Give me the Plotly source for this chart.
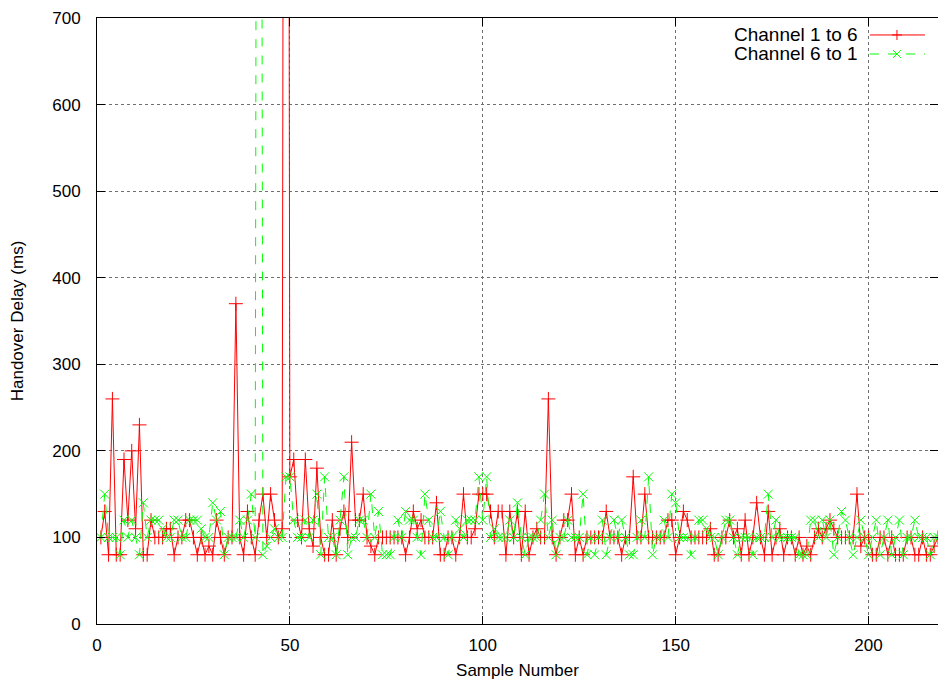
import plotly.graph_objects as go

# Sample numbers and handover delays (ms)
samples = list(range(1, 219))

ch_1_to_6 = [
    100, 130, 80, 260, 80, 80, 190, 120, 200, 110,
    230, 80, 80, 120, 100, 100, 100, 110, 110, 80,
    100, 100, 120, 120, 100, 80, 100, 80, 90, 80,
    120, 100, 80, 100, 100, 370, 100, 80, 130, 100,
    80, 120, 150, 100, 150, 120, 100, 110, 3000, 170,
    190, 120, 100, 190, 110, 90, 180, 100, 80, 80,
    120, 80, 110, 130, 100, 210, 120, 120, 150, 100,
    90, 80, 100, 100, 100, 100, 100, 100, 100, 80,
    100, 130, 110, 120, 100, 100, 100, 140, 80, 80,
    100, 100, 80, 100, 150, 100, 100, 110, 150, 150,
    150, 130, 100, 130, 130, 80, 130, 100, 130, 80,
    130, 80, 100, 110, 100, 100, 260, 100, 80, 100,
    120, 120, 150, 80, 100, 80, 100, 100, 100, 100,
    100, 130, 100, 100, 100, 80, 100, 100, 170, 100,
    100, 150, 100, 100, 100, 100, 100, 120, 120, 80,
    100, 130, 120, 100, 100, 100, 100, 100, 110, 80,
    80, 100, 100, 120, 100, 110, 80, 120, 80, 100,
    140, 100, 80, 130, 80, 100, 110, 80, 100, 100,
    80, 100, 80, 90, 80, 100, 110, 100, 110, 120,
    110, 100, 100, 100, 100, 100, 150, 90, 100, 100,
    80, 80, 100, 100, 80, 100, 80, 80, 80, 100,
    100, 80, 80, 100, 80, 80, 90, 100,
]

ch_6_to_1 = [
    100, 150, 100, 100, 100, 80, 120, 100, 120, 100,
    80, 140, 100, 120, 120, 120, 110, 100, 100, 120,
    120, 100, 100, 120, 120, 120, 110, 100, 100, 140,
    120, 130, 80, 100, 100, 100, 120, 100, 120, 150,
    100, 3000, 80, 90, 100, 110, 100, 100, 170, 170,
    120, 100, 100, 120, 100, 120, 150, 80, 170, 100,
    100, 80, 120, 170, 80, 100, 100, 120, 120, 100,
    150, 100, 130, 80, 80, 80, 100, 120, 100, 130,
    120, 120, 100, 80, 150, 120, 100, 100, 130, 100,
    80, 100, 120, 110, 100, 120, 120, 120, 170, 120,
    170, 100, 110, 100, 100, 100, 120, 100, 140, 100,
    80, 100, 100, 100, 120, 150, 100, 120, 80, 100,
    100, 120, 100, 100, 100, 150, 80, 100, 80, 100,
    120, 80, 100, 120, 100, 120, 100, 80, 80, 100,
    120, 100, 170, 80, 100, 100, 120, 100, 150, 140,
    100, 100, 100, 80, 100, 120, 120, 110, 100, 100,
    80, 100, 120, 120, 100, 80, 100, 100, 100, 80,
    100, 100, 100, 150, 100, 120, 100, 100, 100, 100,
    100, 80, 80, 80, 120, 120, 100, 120, 100, 120,
    80, 100, 130, 120, 100, 80, 100, 120, 100, 80,
    100, 120, 80, 100, 120, 80, 100, 120, 80, 100,
    100, 120, 100, 100, 100, 80, 100, 100,
]

x_ticks = [0, 50, 100, 150, 200]
y_ticks = [0, 100, 200, 300, 400, 500, 600, 700]
names = ["Channel 1 to 6", "Channel 6 to 1"]

RED = "#ff0000"
GREEN = "#00ff00"
FONT = "Liberation Sans, Arial, sans-serif"

fig = go.Figure()
fig.add_trace(go.Scatter(
    x=samples, y=ch_1_to_6, mode="lines+markers", name=names[0],
    line=dict(color=RED, width=1),
    marker=dict(symbol="cross-thin-open", size=10, color=RED,
                line=dict(color=RED, width=1)),
    cliponaxis=True, showlegend=False,
))
fig.add_trace(go.Scatter(
    x=samples, y=ch_6_to_1, mode="lines+markers", name=names[1],
    line=dict(color=GREEN, width=1, dash="dash"),
    marker=dict(symbol="x-thin-open", size=9, color=GREEN,
                line=dict(color=GREEN, width=1)),
    cliponaxis=True, showlegend=False,
))

axis_common = dict(
    showline=True, linecolor="black", linewidth=1, mirror="ticks",
    ticks="inside", ticklen=8, tickcolor="black",
    showgrid=True, gridcolor="#707070", griddash="dot", gridwidth=1,
    zeroline=False,
    tickfont=dict(family=FONT, size=17, color="black"),
)

fig.update_xaxes(
    range=[0, 218], tickvals=x_ticks, ticktext=[str(v) for v in x_ticks],
    title=dict(text="Sample Number", font=dict(family=FONT, size=17, color="black"), standoff=12),
    ticklabelstandoff=6,
    **axis_common,
)
fig.update_yaxes(
    range=[0, 700], tickvals=y_ticks, ticktext=[str(v) for v in y_ticks],
    title=dict(text="Handover Delay (ms)", font=dict(family=FONT, size=17, color="black"), standoff=24),
    ticklabelstandoff=12,
    **axis_common,
)

# gnuplot-style legend: text on the left, sample on the right
legend_rows = [(0.972, RED, "solid", "cross"), (0.9406, GREEN, "dash", "x")]
for (yp, col, dash, sym), name in zip(legend_rows, names):
    fig.add_annotation(
        x=0.907, y=yp, xref="paper", yref="paper", text=name, showarrow=False,
        xanchor="right", yanchor="middle",
        font=dict(family=FONT, size=19, color="black"),
    )
    fig.add_shape(type="line", xref="paper", yref="paper",
                  x0=0.919, x1=0.9845, y0=yp, y1=yp,
                  line=dict(color=col, width=1, dash=dash))
    if sym == "cross":
        segs = [(-5, 0, 5, 0), (0, -5, 0, 5)]
    else:
        segs = [(-4, -4, 4, 4), (-4, 4, 4, -4)]
    for (a, b, c, d) in segs:
        fig.add_shape(type="line", xref="paper", yref="paper",
                      xsizemode="pixel", ysizemode="pixel",
                      xanchor=0.9512, yanchor=yp,
                      x0=a, x1=c, y0=b, y1=d,
                      line=dict(color=col, width=1))

fig.update_layout(
    width=938, height=680,
    margin=dict(l=97, r=0, t=18, b=56),
    plot_bgcolor="white", paper_bgcolor="white",
    font=dict(family=FONT, size=17, color="black"),
)

fig.write_html("out.html")
